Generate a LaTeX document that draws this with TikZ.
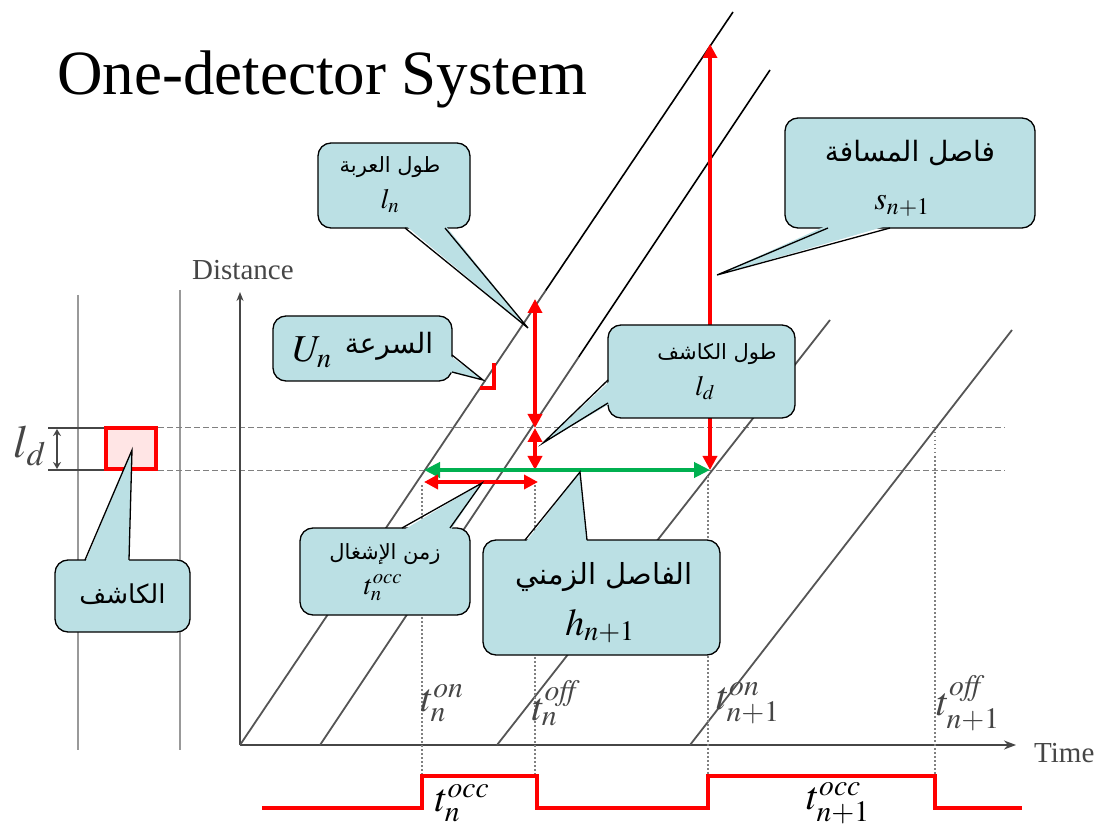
\documentclass[tikz,border=0pt]{standalone}
\usepackage{mathptmx}
\usepackage[no-math]{fontspec}
\setmainfont{Liberation Serif}
\newfontfamily\arabicfont[Script=Arabic]{DejaVu Sans}
\TeXXeTstate=1
\usetikzlibrary{arrows.meta,calc}
\definecolor{callfill}{RGB}{187,224,228}
\definecolor{redc}{RGB}{255,0,0}
\definecolor{greenc}{RGB}{0,176,80}
\definecolor{trajgray}{RGB}{85,85,85}
\definecolor{labgray}{RGB}{70,70,70}
\newcommand\ar[1]{{\arabicfont\beginR #1\endR}}
\newcommand\fs[1]{\fontsize{#1}{#1}\selectfont}
\newcommand\callptr[4]{%
  \fill[callfill] ($#1+#4$) -- #3 -- ($#2+#4$) -- cycle;
  \draw[calloutline] #1 -- #3 -- #2;}
\begin{document}
\begin{tikzpicture}[x=1pt,y=-1pt,
  callout/.style={draw=black, fill=callfill, rounded corners=13pt, line width=1.3pt, inner sep=0pt},
  calloutline/.style={draw=black, line width=1.3pt, line join=miter},
  ctext/.style={inner sep=0pt},
  traj/.style={draw=trajgray, line width=1.8pt},
  trajtop/.style={draw=black, line width=1.6pt},
  dashline/.style={draw=gray, line width=1pt, dash pattern=on 6pt off 3pt},
  dotline/.style={draw=gray, line width=1.2pt, dash pattern=on 1.5pt off 2.5pt},
  redarrow/.style={draw=redc, line width=3.5pt, {Triangle[length=14pt,width=14pt]}-{Triangle[length=14pt,width=14pt]}},
  greenarrow/.style={draw=greenc, line width=4.5pt, {Triangle[length=16pt,width=15pt]}-{Triangle[length=16pt,width=15pt]}},
  tlab/.style={text=labgray, font=\fs{40}},
  axlab/.style={text=labgray, font=\fs{29}}]
\useasboundingbox (0,0) rectangle (1104,826);
\fill[white] (0,0) rectangle (1104,826);

% title
\node[anchor=base west, inner sep=0pt, font=\fs{63}] (title) at (57,95) {One-detector System};

% left detector posts
\draw[draw=gray!80, line width=2.5pt] (78,295) -- (78,750);
\draw[draw=gray!80, line width=2.5pt] (180,290) -- (180,750);

% detector zone lines
\draw[draw=labgray, line width=1.2pt] (48,428) -- (104,428);
\draw[draw=labgray, line width=1.2pt] (48,470) -- (104,470);
\draw[dashline] (158,428) -- (1005,428);
\draw[dashline] (158,470) -- (1005,470);
\coordinate (ldt) at (57,429);
\coordinate (ldb) at (57,469);
\draw[draw=labgray, line width=1.5pt, {Stealth[length=7pt,width=8pt]}-{Stealth[length=7pt,width=8pt]}] (ldt) -- (ldb);
\node[text=labgray, font=\fs{46}] (ldlab) at (30,446) {$l_d$};
\node[draw=redc, line width=4pt, fill=red!10, minimum width=50pt, minimum height=41pt, inner sep=0pt] (det) at (131,448.5) {};

% axes
\coordinate (O) at (240,745);
\coordinate (Ytop) at (240,292);
\coordinate (Xend) at (1016,745);
\draw[draw=labgray, line width=1.5pt, -{Stealth[length=9pt,width=7pt]}] (O) -- (Ytop);
\draw[draw=labgray, line width=1.5pt, -{Stealth[length=12pt,width=9pt]}] (O) -- (Xend);
\node[axlab, anchor=west, inner sep=0pt] (dist) at (192,270) {Distance};
\node[axlab, anchor=west, inner sep=0pt] (time) at (1034,753) {Time};

% trajectories
\coordinate (A0) at (240,745); \coordinate (A1) at (733,12);
\coordinate (B0) at (320,745); \coordinate (B1) at (770,70);
\coordinate (C0) at (497,745); \coordinate (C1) at (830,320);
\coordinate (D0) at (690,745); \coordinate (D1) at (1012,330);
\draw[traj] (A0) -- ($(A0)!0.62!(A1)$);
\draw[trajtop] ($(A0)!0.62!(A1)$) -- (A1);
\draw[traj] (B0) -- ($(B0)!0.575!(B1)$);
\draw[trajtop] ($(B0)!0.575!(B1)$) -- (B1);
\draw[traj] (C0) -- (C1);
\draw[traj] (D0) -- (D1);

% dotted time markers
\draw[dotline] (422,485) -- (422,775);
\draw[dotline] (535,485) -- (535,775);
\draw[dotline] (708,476) -- (708,775);
\draw[dotline] (935,432) -- (935,775);

% time labels
\node[tlab] (ton) at (442,703) {$t_n^{\mathit{on}}$};
\node[tlab] (toff) at (556,703) {$t_n^{\mathit{off}}$};
\node[tlab] (ton1) at (748,703) {$t_{n+1}^{\mathit{on}}$};
\node[tlab] (toff1) at (968,703) {$t_{n+1}^{\mathit{off}}$};

% occupancy signal
\draw[draw=redc, line width=4.5pt] (262,808) -- (422,808) -- (422,776) -- (537,776) -- (537,808) -- (708,808) -- (708,776) -- (935,776) -- (935,808) -- (1022,808);
\node[font=\fs{40}] (occ1) at (462,803) {$t_n^{\mathit{occ}}$};
\node[font=\fs{40}] (occ2) at (838,803) {$t_{n+1}^{\mathit{occ}}$};

% measurement arrows
\coordinate (lnTop) at (535,299);
\coordinate (lnBot) at (535,428);
\coordinate (ldBot) at (535,470);
\coordinate (sTop) at (710,44);
\coordinate (sBot) at (710,470);
\coordinate (hL) at (424,470);
\coordinate (occL) at (424,482);
\coordinate (occR) at (538,482);
\draw[redarrow] (lnTop) -- (lnBot);
\draw[redarrow] (lnBot) -- (ldBot);
\draw[redarrow] (sBot) -- (sTop);
\draw[greenarrow] (hL) -- (sBot);
\draw[redarrow] (occL) -- (occR);
\draw[draw=redc, line width=3.5pt] (480,388) -- (494,388) -- (494,363);

% callouts
\coordinate (tipln) at (528,328);
\coordinate (tips) at (717,275);
\coordinate (tipu) at (483,380);
\coordinate (tipld) at (543,443);
\coordinate (tipdet) at (132,450);
\coordinate (tipocc) at (482,483);
\coordinate (tiph) at (580,472);

\node[callout, minimum width=152pt, minimum height=85pt] (cln) at (394,185.5) {};
\callptr{(405,228)}{(445,228)}{(tipln)}{(0,-3)}
\node[ctext, font=\fs{21}] (clnA) at (390,167) {\ar{طول العربة}};
\node[ctext, font=\fs{28}] (clnB) at (390,201) {$l_n$};

\node[callout, minimum width=250pt, minimum height=110pt] (cs) at (910,173) {};
\callptr{(828,228)}{(890,228)}{(tips)}{(0,-3)}
\node[ctext, font=\fs{28}] (csA) at (910,153) {\ar{فاصل المسافة}};
\node[ctext, font=\fs{32}] (csB) at (902,206) {$s_{n+1}$};

\node[callout, minimum width=179pt, minimum height=65pt] (cu) at (362.5,348.5) {};
\callptr{(452,355)}{(452,372)}{(tipu)}{(-3,0)}
\node[ctext, font=\fs{38}] (cuA) at (312,352) {$U_n$};
\node[ctext, font=\fs{28}] (cuB) at (389,346) {\ar{السرعة}};

\node[callout, minimum width=187pt, minimum height=93pt] (cld) at (701.5,371.5) {};
\callptr{(608,380)}{(608,403)}{(tipld)}{(3,0)}
\node[ctext, font=\fs{21}] (cldA) at (717,354) {\ar{طول الكاشف}};
\node[ctext, font=\fs{28}] (cldB) at (705,388) {$l_d$};

\node[callout, minimum width=135pt, minimum height=72pt] (cdet) at (122.5,596) {};
\callptr{(85,560)}{(129,560)}{(tipdet)}{(0,3)}
\node[ctext, font=\fs{26}] (cdetA) at (122.5,594) {\ar{الكاشف}};

\node[callout, minimum width=170pt, minimum height=87pt] (cocc) at (385,571.5) {};
\callptr{(402,528)}{(450,528)}{(tipocc)}{(0,3)}
\node[ctext, font=\fs{21}] (coccA) at (385,554) {\ar{زمن الإشغال}};
\node[ctext, font=\fs{28}] (coccB) at (383,588) {$t_n^{\mathit{occ}}$};

\node[callout, minimum width=237pt, minimum height=115pt] (ch) at (601.5,597.5) {};
\callptr{(525,540)}{(587,540)}{(tiph)}{(0,3)}
\node[ctext, font=\fs{29}] (chA) at (604,577) {\ar{الفاصل الزمني}};
\node[ctext, font=\fs{38}] (chB) at (600,626) {$h_{n+1}$};
\end{tikzpicture}
\end{document}
